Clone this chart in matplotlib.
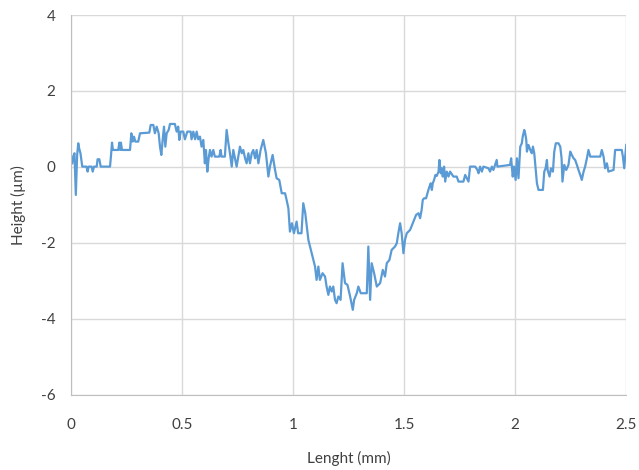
import numpy as np
import matplotlib.pyplot as plt

# surface profile, length in mm and height in um, split into three stretches
left_x = [
    0.006, 0.010, 0.016, 0.022, 0.028, 0.033, 0.037, 0.043, 0.051, 0.070,
    0.075, 0.080, 0.093, 0.098, 0.104, 0.116, 0.120, 0.128, 0.134, 0.176,
    0.180, 0.185, 0.189, 0.213, 0.218, 0.222, 0.225, 0.230, 0.266, 0.272,
    0.278, 0.284, 0.290, 0.303, 0.311, 0.353, 0.359, 0.371, 0.378, 0.386,
    0.395, 0.401, 0.407, 0.413, 0.419, 0.425, 0.431, 0.440, 0.446, 0.468,
    0.476, 0.483, 0.488, 0.494, 0.506, 0.513, 0.524, 0.539, 0.543, 0.551,
    0.559, 0.566, 0.573, 0.581, 0.588, 0.596, 0.603, 0.608, 0.614, 0.620,
    0.626, 0.633, 0.641, 0.648, 0.668, 0.674, 0.678, 0.693, 0.701, 0.709,
    0.716,
]
left_y = [
    0.096, 0.272, 0.360, -0.737, 0.316, 0.623, 0.491, 0.360, 0.009, 0.009,
    -0.123, 0.009, 0.009, -0.123, 0.009, 0.009, 0.202, 0.202, 0.009, 0.009,
    0.272, 0.640, 0.447, 0.447, 0.640, 0.447, 0.640, 0.447, 0.447, 0.886,
    0.667, 0.798, 0.667, 0.667, 0.886, 0.904, 1.105, 1.105, 0.886, 1.061,
    0.886, 0.535, 0.316, 0.711, 1.061, 0.535, 0.886, 0.974, 1.132, 1.132,
    0.930, 1.061, 0.711, 0.930, 0.930, 0.728, 0.930, 0.930, 0.728, 0.930,
    0.728, 0.930, 0.728, 0.798, 0.535, 0.711, 0.096, 0.447, -0.123, 0.228,
    0.447, 0.272, 0.447, 0.272, 0.272, 0.447, 0.272, 0.272, 0.974, 0.623,
    0.360,
]

trough_x = [
    0.724, 0.731, 0.746, 0.761, 0.769, 0.776, 0.784, 0.791, 0.799, 0.806,
    0.814, 0.821, 0.829, 0.836, 0.844, 0.854, 0.866, 0.878, 0.889, 0.896,
    0.908, 0.919, 0.926, 0.938, 0.949, 0.964, 0.971, 0.979, 0.986, 0.995,
    1.004, 1.016, 1.023, 1.038, 1.046, 1.055, 1.069, 1.084, 1.099, 1.106,
    1.114, 1.121, 1.133, 1.144, 1.151, 1.159, 1.166, 1.174, 1.181, 1.189,
    1.196, 1.204, 1.214, 1.223, 1.234, 1.245, 1.257, 1.269, 1.275, 1.287,
    1.294, 1.305, 1.332, 1.339, 1.347, 1.354, 1.365, 1.377, 1.392, 1.404,
    1.414, 1.422, 1.434, 1.444, 1.459, 1.467, 1.474, 1.482, 1.489, 1.497,
    1.504, 1.512, 1.527,
]
trough_y = [
    0.009, 0.447, 0.009, 0.535, 0.360, 0.447, 0.228, 0.096, 0.360, 0.096,
    0.360, 0.447, 0.228, 0.447, 0.096, 0.447, 0.711, 0.360, -0.254, 0.009,
    0.316, -0.079, -0.298, -0.342, -0.693, -0.693, -0.868, -1.088, -1.702, -1.482,
    -1.746, -1.439, -1.746, -1.746, -0.956, -1.219, -1.921, -2.272, -2.623, -2.974,
    -2.623, -2.974, -2.798, -2.886, -3.149, -3.368, -3.149, -3.281, -3.149, -3.500,
    -3.588, -3.412, -3.500, -2.535, -3.061, -3.105, -3.412, -3.763, -3.500, -3.325,
    -3.149, -3.325, -3.325, -2.096, -3.500, -2.535, -2.798, -3.149, -3.061, -2.711,
    -2.886, -2.535, -2.447, -2.184, -2.096, -2.009, -1.746, -1.482, -1.746, -2.272,
    -1.921, -1.746, -1.658,
]

right_x = [
    1.554, 1.565, 1.572, 1.579, 1.584, 1.590, 1.599, 1.605, 1.614, 1.620,
    1.625, 1.629, 1.635, 1.641, 1.647, 1.655, 1.659, 1.665, 1.670, 1.674,
    1.680, 1.685, 1.692, 1.700, 1.707, 1.722, 1.737, 1.745, 1.767, 1.775,
    1.790, 1.797, 1.820, 1.830, 1.835, 1.842, 1.850, 1.857, 1.880, 1.887,
    1.895, 1.902, 1.917, 1.920, 1.977, 1.982, 1.989, 1.995, 2.002, 2.008,
    2.015, 2.023, 2.030, 2.034, 2.041, 2.045, 2.050, 2.053, 2.060, 2.068,
    2.075, 2.080, 2.086, 2.090, 2.098, 2.105, 2.125, 2.131, 2.137, 2.143,
    2.146, 2.155, 2.161, 2.170, 2.176, 2.183, 2.195, 2.203, 2.209, 2.213,
    2.221, 2.230, 2.240, 2.248, 2.255, 2.263, 2.270, 2.278, 2.285, 2.293,
    2.300, 2.308, 2.315, 2.323, 2.330, 2.338, 2.383, 2.390, 2.398, 2.405,
    2.413, 2.420, 2.443, 2.450, 2.480, 2.485, 2.491, 2.500,
]
right_y = [
    -1.263, -1.219, -1.351, -1.132, -0.868, -0.825, -0.825, -0.693, -0.518, -0.430,
    -0.605, -0.430, -0.342, -0.211, -0.237, -0.123, 0.184, -0.167, -0.035, -0.254,
    0.009, -0.386, -0.123, -0.254, -0.123, -0.254, -0.254, -0.386, -0.386, -0.211,
    -0.386, 0.009, 0.009, -0.079, -0.167, 0.009, -0.123, 0.009, -0.035, -0.123,
    0.009, -0.079, 0.184, 0.009, 0.053, 0.228, -0.254, 0.009, -0.342, 0.228,
    -0.298, 0.535, 0.623, 0.798, 0.974, 0.886, 0.711, 0.404, 0.579, 0.447,
    0.360, 0.535, 0.360, 0.096, -0.430, -0.605, -0.605, -0.123, -0.035, 0.184,
    -0.079, -0.254, -0.035, -0.123, 0.404, 0.623, 0.623, 0.535, 0.228, -0.386,
    0.053, -0.079, 0.053, 0.404, 0.316, 0.228, 0.184, 0.053, -0.079, -0.211,
    -0.342, -0.123, 0.009, 0.228, 0.447, 0.272, 0.272, 0.447, 0.272, -0.035,
    0.096, -0.123, -0.079, 0.447, 0.447, 0.272, -0.035, 0.579,
]

x_ticks = [0, 0.5, 1, 1.5, 2, 2.5]
x_tick_labels = ['0', '0.5', '1', '1.5', '2', '2.5']
y_ticks = [-6, -4, -2, 0, 2, 4]

length_mm = np.concatenate([left_x, trough_x, right_x])
height_um = np.concatenate([left_y, trough_y, right_y])

plt.rcParams['font.family'] = ['Lato', 'DejaVu Sans']
plt.rcParams['axes.unicode_minus'] = False

fig = plt.figure(figsize=(6.39, 4.70), dpi=100)
ax = fig.add_axes([0.111, 0.160, 0.869, 0.808])

ax.plot(length_mm, height_um, color='#5B9BD5', linewidth=1.6)

ax.set_xlim(0, 2.5)
ax.set_ylim(-6, 4)
ax.set_xticks(x_ticks)
ax.set_xticklabels(x_tick_labels)
ax.set_yticks(y_ticks)

ax.grid(True, color='#D9D9D9', linewidth=1.0)
ax.set_axisbelow(True)
for side in ['top', 'right']:
    ax.spines[side].set_visible(False)
for side in ['left', 'bottom']:
    ax.spines[side].set_color('#BFBFBF')
ax.tick_params(length=0, labelsize=11, colors='#404040')
ax.tick_params(axis='x', pad=17)
ax.tick_params(axis='y', pad=11)

ax.set_xlabel('Lenght (mm)', fontsize=11, color='#404040', labelpad=13)
ax.set_ylabel('Height (µm)', fontsize=11, color='#404040', labelpad=11)

fig.savefig('out.png', dpi=100)
